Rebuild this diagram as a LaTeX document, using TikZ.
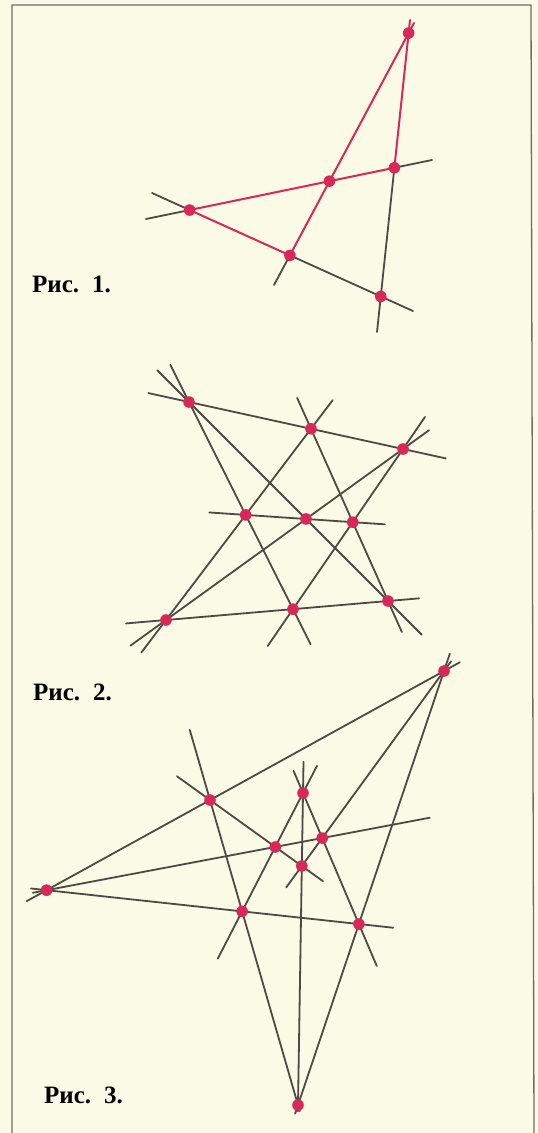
\documentclass[tikz,border=0pt]{standalone}
\usepackage{fontspec}
\setmainfont{Liberation Serif}
\usetikzlibrary{calc}

\definecolor{paper}{HTML}{FAFAE6}
\definecolor{dotred}{HTML}{D82858}
\definecolor{ink}{HTML}{4C4A42}
\definecolor{frameg}{HTML}{6E6E66}

\begin{document}
\begin{tikzpicture}[x=1pt, y=-1pt, line cap=round,
  ln/.style={ink, line width=1.8pt},
  rl/.style={dotred, line width=2pt},
  figcap/.style={anchor=base west, inner sep=0pt, font=\fontsize{25}{28}\selectfont\bfseries}]

% 纸面与边框
\fill[paper] (0,0) rectangle (538,1133);
\useasboundingbox (0,0) rectangle (538,1133);
\draw[frameg, line width=1.3pt] (12,1133) -- (12,5) -- (531,5) -- (534,1133);

% ===== 图 1：完全四边形 =====
% 四条直线的端点
\coordinate (a1) at (146,219); \coordinate (a2) at (432,160);
\coordinate (b1) at (414,23);  \coordinate (b2) at (274,285);
\coordinate (c1) at (410,20);  \coordinate (c2) at (377,332);
\coordinate (d1) at (152,193); \coordinate (d2) at (413,311);

% 六个交点
\coordinate (T)  at (intersection of b1--b2 and c1--c2);
\coordinate (M)  at (intersection of a1--a2 and b1--b2);
\coordinate (R)  at (intersection of a1--a2 and c1--c2);
\coordinate (L)  at (intersection of a1--a2 and d1--d2);
\coordinate (B)  at (intersection of b1--b2 and d1--d2);
\coordinate (BR) at (intersection of c1--c2 and d1--d2);

% 红色部分与灰色延长部分
\draw[ln] (a1) -- (L); \draw[rl] (L) -- (R); \draw[ln] (R) -- (a2);
\draw[rl] (b1) -- (B); \draw[ln] (B) -- (b2);
\draw[rl] (c1) -- (R); \draw[ln] (R) -- (c2);
\draw[ln] (d1) -- (L); \draw[rl] (L) -- (B); \draw[ln] (B) -- (d2);

\foreach \p in {T,M,R,L,B,BR} \fill[dotred] (\p) circle (5.8pt);
\node[figcap] (cap1) at (32,292) {Рис.\hspace{13pt}1.};

% ===== 图 2：帕普斯构形 =====
% 两条直线上各取三点
\coordinate (P1) at (189,402); \coordinate (P3) at (403,449);
\coordinate (P2) at ($(P1)!0.57!(P3)$);
\coordinate (P7) at (166,620); \coordinate (P9) at (388,601);
\coordinate (P8) at ($(P7)!0.572!(P9)$);

% 交叉连线的交点（共线）
\coordinate (P4) at (intersection of P1--P8 and P2--P7);
\coordinate (P5) at (intersection of P1--P9 and P3--P7);
\coordinate (P6) at (intersection of P2--P9 and P3--P8);

% 九条直线
\draw[ln] ($(P1)!-0.19!(P3)$) -- ($(P1)!1.2!(P3)$);
\draw[ln] ($(P4)!-0.34!(P6)$) -- ($(P4)!1.3!(P6)$);
\draw[ln] ($(P7)!-0.18!(P9)$) -- ($(P7)!1.14!(P9)$);
\draw[ln] ($(P1)!-0.18!(P8)$) -- ($(P1)!1.17!(P8)$);
\draw[ln] ($(P1)!-0.16!(P9)$) -- ($(P1)!1.17!(P9)$);
\draw[ln] ($(P2)!-0.15!(P7)$) -- ($(P2)!1.17!(P7)$);
\draw[ln] ($(P2)!-0.18!(P9)$) -- ($(P2)!1.18!(P9)$);
\draw[ln] ($(P3)!-0.11!(P7)$) -- ($(P3)!1.15!(P7)$);
\draw[ln] ($(P3)!-0.2!(P8)$) -- ($(P3)!1.23!(P8)$);

\foreach \p in {P1,P2,P3,P4,P5,P6,P7,P8,P9} \fill[dotred] (\p) circle (5.8pt);
\node[figcap] (cap2) at (33,700) {Рис.\hspace{13pt}2.};

% ===== 图 3：德萨格构形 =====
% 透视中心 Q3 与三条射线
\coordinate (Q3) at (298,1105);
\coordinate (Q1) at (444,671);
\coordinate (Q5) at (303,793);
\coordinate (Q4) at (210,800);
\coordinate (Q10) at ($(Q3)!0.417!(Q1)$);
\coordinate (Q8)  at ($(Q3)!0.766!(Q5)$);
\coordinate (Q9)  at ($(Q3)!0.635!(Q4)$);

% 对应边的交点（在同一直线上）
\coordinate (Q6) at (intersection of Q10--Q5 and Q1--Q8);
\coordinate (Q7) at (intersection of Q5--Q9 and Q8--Q4);
\coordinate (Q2) at (intersection of Q9--Q10 and Q4--Q1);

% 十条直线
\draw[ln] ($(Q2)!-0.05!(Q1)$) -- ($(Q2)!1.04!(Q1)$);
\draw[ln] ($(Q2)!-0.05!(Q6)$) -- ($(Q2)!1.39!(Q6)$);
\draw[ln] ($(Q2)!-0.05!(Q10)$) -- ($(Q2)!1.11!(Q10)$);
\draw[ln] ($(Q1)!-0.05!(Q8)$) -- ($(Q1)!1.11!(Q8)$);
\draw[ln] ($(Q1)!-0.04!(Q3)$) -- ($(Q1)!1.02!(Q3)$);
\draw[ln] ($(Q3)!-0.02!(Q5)$) -- ($(Q3)!1.10!(Q5)$);
\draw[ln] ($(Q3)!-0.02!(Q4)$) -- ($(Q3)!1.23!(Q4)$);
\draw[ln] ($(Q4)!-0.36!(Q8)$) -- ($(Q4)!1.23!(Q8)$);
\draw[ln] ($(Q5)!-0.23!(Q9)$) -- ($(Q5)!1.40!(Q9)$);
\draw[ln] ($(Q5)!-0.17!(Q10)$) -- ($(Q5)!1.32!(Q10)$);

\foreach \p in {Q1,Q2,Q3,Q4,Q5,Q6,Q7,Q8,Q9,Q10} \fill[dotred] (\p) circle (5.8pt);
\node[figcap] (cap3) at (44,1103) {Рис.\hspace{13pt}3.};

\end{tikzpicture}
\end{document}
